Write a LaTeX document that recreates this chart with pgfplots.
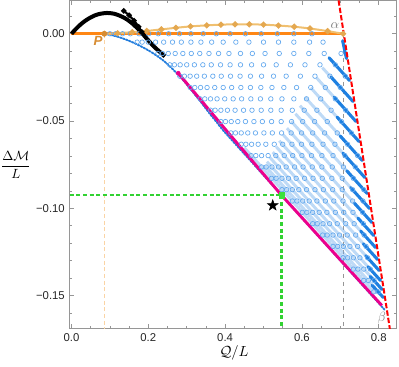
\documentclass[border=0pt]{standalone}
\usepackage{amsmath}
\usepackage{fontspec}
\setmainfont{Liberation Sans}
\usepackage{pgfplots}
\pgfplotsset{compat=1.18}
\usetikzlibrary{calc}

\definecolor{framegray}{RGB}{150,150,150}
\definecolor{circblue}{RGB}{98,168,238}
\definecolor{bandblue}{RGB}{110,172,236}
\definecolor{strokeblue}{RGB}{30,128,225}
\definecolor{edgeblue}{RGB}{35,125,220}
\definecolor{lineorange}{RGB}{255,135,20}
\definecolor{lightorange}{RGB}{240,192,112}
\definecolor{markorange}{RGB}{228,168,80}
\definecolor{porange}{RGB}{215,140,50}
\definecolor{guideorange}{RGB}{250,212,165}
\definecolor{guidegreen}{RGB}{50,210,50}
\definecolor{dotgreen}{RGB}{60,225,60}

% filled five-pointed star
\pgfdeclareplotmark{fstar}{%
  \pgfpathmoveto{\pgfpointpolar{90}{\pgfplotmarksize}}%
  \pgfpathlineto{\pgfpointpolar{126}{0.40\pgfplotmarksize}}%
  \pgfpathlineto{\pgfpointpolar{162}{\pgfplotmarksize}}%
  \pgfpathlineto{\pgfpointpolar{198}{0.40\pgfplotmarksize}}%
  \pgfpathlineto{\pgfpointpolar{234}{\pgfplotmarksize}}%
  \pgfpathlineto{\pgfpointpolar{270}{0.40\pgfplotmarksize}}%
  \pgfpathlineto{\pgfpointpolar{306}{\pgfplotmarksize}}%
  \pgfpathlineto{\pgfpointpolar{342}{0.40\pgfplotmarksize}}%
  \pgfpathlineto{\pgfpointpolar{18}{\pgfplotmarksize}}%
  \pgfpathlineto{\pgfpointpolar{54}{0.40\pgfplotmarksize}}%
  \pgfpathclose\pgfusepathqfillstroke}

\begin{document}
\begin{tikzpicture}
\begin{axis}[
    scale only axis,
    width=245.3pt, height=246.2pt,
    xmin=-0.0052, xmax=0.8469,
    ymin=-0.169, ymax=0.0191,
    axis line style={framegray, line width=0.6pt},
    tick align=inside, tick pos=both,
    xticklabel pos=left, yticklabel pos=left,
    xtick={0,0.2,0.4,0.6,0.8},
    xticklabels={0.0,0.2,0.4,0.6,0.8},
    ytick={-0.15,-0.10,-0.05,0},
    yticklabels={−0.15,−0.10,−0.05,0.00},
    minor xtick={0.05,0.1,0.15,0.25,0.3,0.35,0.45,0.5,0.55,0.65,0.7,0.75},
    minor ytick={-0.16,-0.14,-0.13,-0.12,-0.11,-0.09,-0.08,-0.07,-0.06,-0.04,-0.03,-0.02,-0.01,0.01},
    major tick length=3.5pt, minor tick length=2pt,
    every tick/.style={framegray, line width=0.5pt},
    tick label style={font=\fontsize{8.5}{10}\selectfont, text=black!85},
    xlabel={$\mathcal{Q}/L$},
    xlabel style={at={(axis description cs:0.503,-0.074)}, anchor=center, font=\fontsize{11}{13}\selectfont},
    ylabel={$\displaystyle\frac{\Delta\mathcal{M}}{L}$},
    ylabel style={rotate=-90, at={(axis description cs:-0.164,0.50)}, anchor=center, font=\fontsize{10}{12}\selectfont},
    unbounded coords=jump,
]

% guide lines
\addplot[draw=guideorange, densely dashed, line width=0.6pt] coordinates {(0.0855,0) (0.0855,-0.169)};
\addplot[draw=framegray, dashed, line width=0.6pt] coordinates {(0.7071,0) (0.7071,-0.169)};

% light bands where the circles crowd
\addplot[bandblue, line width=2.2pt, opacity=0.45] coordinates {
(0.450,-0.0653) (0.790,-0.1485) (nan,nan)
(0.504,-0.0756) (0.792,-0.1461) (nan,nan)
(0.509,-0.0733) (0.787,-0.1410) (nan,nan)
(0.516,-0.0707) (0.780,-0.1354) (nan,nan)
(0.524,-0.0678) (0.774,-0.1291) (nan,nan)
(0.533,-0.0647) (0.768,-0.1223) (nan,nan)
(0.541,-0.0613) (0.761,-0.1150) (nan,nan)
(0.551,-0.0578) (0.754,-0.1076) (nan,nan)
(0.561,-0.0541) (0.747,-0.0996) (nan,nan)
(0.572,-0.0501) (0.739,-0.0911) (nan,nan)
(0.583,-0.0458) (0.731,-0.0820) (nan,nan)
(0.595,-0.0412) (0.723,-0.0724) (nan,nan)
(0.608,-0.0363) (0.716,-0.0626) (nan,nan)
(0.623,-0.0309) (0.708,-0.0518) (nan,nan)
(0.638,-0.0252) (0.700,-0.0403) (nan,nan)
(0.653,-0.0194) (0.692,-0.0288) (nan,nan)
(0.669,-0.0134) (0.683,-0.0168)
};

% family of solutions (open circles)
\addplot[only marks, mark=o, mark size=1.7pt, mark options={circblue, line width=0.5pt}] coordinates {
(0.100,0) (0.171,-0.0048) (0.225,-0.0113) (0.256,-0.0178) (0.282,-0.0243) (0.309,-0.0308) (0.335,-0.0373) (0.362,-0.0438) (0.389,-0.0503) (0.415,-0.0568) (0.442,-0.0633) (0.468,-0.0698) (0.495,-0.0763) (0.521,-0.0828) (0.548,-0.0893) (0.575,-0.0958) (0.601,-0.1023) (0.628,-0.1088) (0.654,-0.1153) (0.681,-0.1218) (0.707,-0.1283) (0.734,-0.1348) (0.761,-0.1413) (0.787,-0.1478)
(0.115,0) (0.184,-0.0048) (0.237,-0.0113) (0.268,-0.0178) (0.294,-0.0243) (0.321,-0.0308) (0.347,-0.0373) (0.374,-0.0438) (0.401,-0.0503) (0.427,-0.0568) (0.454,-0.0633) (0.480,-0.0698) (0.507,-0.0763) (0.533,-0.0828) (0.560,-0.0893) (0.587,-0.0958) (0.613,-0.1023) (0.640,-0.1088) (0.666,-0.1153) (0.693,-0.1218) (0.719,-0.1283) (0.746,-0.1348) (0.773,-0.1413) (0.799,-0.1478)
(0.133,0) (0.200,-0.0048) (0.252,-0.0113) (0.283,-0.0178) (0.309,-0.0243) (0.336,-0.0308) (0.362,-0.0373) (0.389,-0.0438) (0.416,-0.0503) (0.442,-0.0568) (0.469,-0.0633) (0.495,-0.0698) (0.522,-0.0763) (0.548,-0.0828) (0.575,-0.0893) (0.602,-0.0958) (0.628,-0.1023) (0.655,-0.1088) (0.681,-0.1153) (0.708,-0.1218) (0.734,-0.1283) (0.761,-0.1348) (0.788,-0.1413)
(0.153,0) (0.219,-0.0048) (0.270,-0.0113) (0.300,-0.0178) (0.326,-0.0243) (0.353,-0.0308) (0.379,-0.0373) (0.406,-0.0438) (0.433,-0.0503) (0.459,-0.0568) (0.486,-0.0633) (0.512,-0.0698) (0.539,-0.0763) (0.565,-0.0828) (0.592,-0.0893) (0.619,-0.0958) (0.645,-0.1023) (0.672,-0.1088) (0.698,-0.1153) (0.725,-0.1218) (0.751,-0.1283) (0.778,-0.1348)
(0.176,0) (0.240,-0.0048) (0.290,-0.0113) (0.320,-0.0178) (0.346,-0.0243) (0.373,-0.0308) (0.399,-0.0373) (0.426,-0.0438) (0.453,-0.0503) (0.479,-0.0568) (0.506,-0.0633) (0.532,-0.0698) (0.559,-0.0763) (0.585,-0.0828) (0.612,-0.0893) (0.639,-0.0958) (0.665,-0.1023) (0.692,-0.1088) (0.718,-0.1153) (0.745,-0.1218) (0.771,-0.1283)
(0.201,0) (0.263,-0.0048) (0.312,-0.0113) (0.342,-0.0178) (0.368,-0.0243) (0.395,-0.0308) (0.421,-0.0373) (0.448,-0.0438) (0.475,-0.0503) (0.501,-0.0568) (0.528,-0.0633) (0.554,-0.0698) (0.581,-0.0763) (0.607,-0.0828) (0.634,-0.0893) (0.661,-0.0958) (0.687,-0.1023) (0.714,-0.1088) (0.740,-0.1153) (0.767,-0.1218)
(0.226,0) (0.286,-0.0048) (0.334,-0.0113) (0.364,-0.0178) (0.390,-0.0243) (0.417,-0.0308) (0.443,-0.0373) (0.470,-0.0438) (0.497,-0.0503) (0.523,-0.0568) (0.550,-0.0633) (0.576,-0.0698) (0.603,-0.0763) (0.629,-0.0828) (0.656,-0.0893) (0.683,-0.0958) (0.709,-0.1023) (0.736,-0.1088) (0.762,-0.1153)
(0.253,0) (0.311,-0.0048) (0.358,-0.0113) (0.388,-0.0178) (0.414,-0.0243) (0.441,-0.0308) (0.467,-0.0373) (0.494,-0.0438) (0.521,-0.0503) (0.547,-0.0568) (0.574,-0.0633) (0.600,-0.0698) (0.627,-0.0763) (0.653,-0.0828) (0.680,-0.0893) (0.707,-0.0958) (0.733,-0.1023) (0.760,-0.1088)
(0.281,0) (0.337,-0.0048) (0.383,-0.0113) (0.413,-0.0178) (0.439,-0.0243) (0.466,-0.0308) (0.492,-0.0373) (0.519,-0.0438) (0.546,-0.0503) (0.572,-0.0568) (0.599,-0.0633) (0.625,-0.0698) (0.652,-0.0763) (0.678,-0.0828) (0.705,-0.0893) (0.732,-0.0958) (0.758,-0.1023)
(0.311,0) (0.365,-0.0048) (0.410,-0.0113) (0.440,-0.0178) (0.466,-0.0243) (0.493,-0.0308) (0.519,-0.0373) (0.546,-0.0438) (0.573,-0.0503) (0.599,-0.0568) (0.626,-0.0633) (0.652,-0.0698) (0.679,-0.0763) (0.705,-0.0828) (0.732,-0.0893) (0.759,-0.0958)
(0.343,0) (0.395,-0.0048) (0.440,-0.0113) (0.469,-0.0178) (0.495,-0.0243) (0.522,-0.0308) (0.548,-0.0373) (0.575,-0.0438) (0.602,-0.0503) (0.628,-0.0568) (0.655,-0.0633) (0.681,-0.0698) (0.708,-0.0763) (0.734,-0.0828) (0.761,-0.0893)
(0.377,0) (0.428,-0.0048) (0.471,-0.0113) (0.500,-0.0178) (0.526,-0.0243) (0.553,-0.0308) (0.579,-0.0373) (0.606,-0.0438) (0.633,-0.0503) (0.659,-0.0568) (0.686,-0.0633) (0.712,-0.0698) (0.739,-0.0763)
(0.413,0) (0.462,-0.0048) (0.504,-0.0113) (0.533,-0.0178) (0.559,-0.0243) (0.586,-0.0308) (0.612,-0.0373) (0.639,-0.0438) (0.666,-0.0503) (0.692,-0.0568) (0.719,-0.0633) (0.745,-0.0698)
(0.453,0) (0.500,-0.0048) (0.541,-0.0113) (0.570,-0.0178) (0.596,-0.0243) (0.623,-0.0308) (0.649,-0.0373) (0.676,-0.0438) (0.703,-0.0503) (0.729,-0.0568)
(0.494,0) (0.539,-0.0048) (0.579,-0.0113) (0.608,-0.0178) (0.634,-0.0243) (0.661,-0.0308) (0.687,-0.0373) (0.714,-0.0438)
(0.536,0) (0.579,-0.0048) (0.618,-0.0113) (0.647,-0.0178) (0.673,-0.0243) (0.700,-0.0308)
(0.579,0) (0.620,-0.0048) (0.658,-0.0113) (0.687,-0.0178) (0.713,-0.0243)
(0.626,0) (0.655,-0.0048) (0.702,-0.0113)
};

% dense ends of each branch
\addplot[strokeblue, line width=2.3pt, line cap=round] coordinates {
(0.783,-0.1441) (0.812,-0.1511) (nan,nan)
(0.778,-0.1390) (0.809,-0.1465) (nan,nan)
(0.772,-0.1334) (0.805,-0.1414) (nan,nan)
(0.766,-0.1271) (0.801,-0.1356) (nan,nan)
(0.760,-0.1203) (0.797,-0.1293) (nan,nan)
(0.753,-0.1130) (0.792,-0.1225) (nan,nan)
(0.746,-0.1056) (0.787,-0.1156) (nan,nan)
(0.737,-0.0971) (0.782,-0.1081) (nan,nan)
(0.727,-0.0881) (0.776,-0.1001) (nan,nan)
(0.717,-0.0785) (0.770,-0.0915) (nan,nan)
(0.707,-0.0684) (0.764,-0.0824) (nan,nan)
(0.700,-0.0586) (0.757,-0.0726) (nan,nan)
(0.692,-0.0478) (0.749,-0.0618) (nan,nan)
(0.684,-0.0363) (0.741,-0.0503) (nan,nan)
(0.676,-0.0248) (0.733,-0.0388) (nan,nan)
(0.671,-0.0138) (0.724,-0.0268) (nan,nan)
(0.706,-0.0040) (0.716,-0.0142)
};

% lower edge of the region
\addplot[edgeblue, line width=1.4pt, densely dotted, line cap=round, smooth] coordinates {
(0.0855,0) (0.10,-0.0006) (0.12,-0.0017) (0.14,-0.0032) (0.16,-0.0050) (0.18,-0.0071) (0.20,-0.0095) (0.22,-0.0123) (0.24,-0.0155) (0.26,-0.0195) (0.28,-0.0240) (0.30,-0.0290) (0.32,-0.0345) (0.34,-0.0400) (0.36,-0.0458) (0.38,-0.0512) (0.40,-0.0566) (0.50,-0.0810) (0.60,-0.1055) (0.70,-0.1299) (0.815,-0.1580)
};

% orange line and light orange curve
\addplot[lineorange, line width=2.2pt] coordinates {(0,0) (0.7071,0)};
\addplot[lightorange, line width=1.5pt, smooth, mark=*, mark size=1.4pt, mark options={fill=markorange, draw=markorange}] coordinates {
(0.0855,0) (0.120,0.0003) (0.158,0.0009) (0.196,0.0016) (0.234,0.0025) (0.272,0.0034) (0.310,0.0042) (0.352,0.0048) (0.389,0.0052) (0.426,0.0054) (0.463,0.0054) (0.500,0.0052) (0.539,0.0047) (0.580,0.0040) (0.621,0.0030) (0.667,0.0015) (0.7071,0)
};

% black curve and its short branch
\addplot[black, line width=3pt, smooth] coordinates {
(0.000,0.0000) (0.010,0.0024) (0.022,0.0050) (0.035,0.0073) (0.048,0.0091) (0.061,0.0105) (0.074,0.0114) (0.0925,0.0119) (0.110,0.0115) (0.125,0.0104) (0.140,0.0088) (0.155,0.0065) (0.170,0.0035) (0.185,0.0000) (0.200,-0.0038) (0.215,-0.0074) (0.230,-0.0104) (0.243,-0.0130)
};
\addplot[black, line width=1.6pt, mark=*, mark size=1.1pt] coordinates {
(0.136,0.0131) (0.150,0.0106) (0.163,0.0075) (0.175,0.0040) (0.183,0.0010)
};

% magenta line
\addplot[magenta, line width=2.2pt] coordinates {(0.278,-0.0226) (0.410,-0.0572) (0.547,-0.0925) (0.808,-0.1556)};
\addplot[only marks, mark=*, mark size=1.5pt, magenta] coordinates {(0.278,-0.0226)};

% green guide lines
\addplot[color=guidegreen, dash pattern=on 3pt off 2pt, line width=1.3pt] coordinates {(-0.0052,-0.0925) (0.547,-0.0925)};
\addplot[color=guidegreen, dash pattern=on 3pt off 2pt, line width=1.8pt] coordinates {(0.547,-0.0925) (0.547,-0.169)};

% red dashed line
\addplot[red, line width=1.5pt, dash pattern=on 4pt off 1.6pt] coordinates {(0.6955,0.0191) (0.829,-0.169)};

% special points
\addplot[only marks, mark=square*, mark size=2pt, dotgreen] coordinates {(0.547,-0.0925)};
\addplot[only marks, mark=fstar, mark size=4.2pt, black] coordinates {(0.524,-0.0983)};
\addplot[only marks, mark=*, mark size=1.9pt, porange] coordinates {(0.0855,0)};

\node[text=porange, font=\bfseries\itshape\fontsize{10}{12}\selectfont] at (axis cs:0.069,-0.0040) {P};
\node[text=gray, font=\fontsize{10}{12}\selectfont] at (axis cs:0.686,0.0048) {$\alpha$};
\node[text=gray, font=\fontsize{10}{12}\selectfont] at (axis cs:0.808,-0.1628) {$\beta$};
\end{axis}
\pgfresetboundingbox
\path[use as bounding box] ($(current axis.south west)+(-52.1pt,-28.3pt)$) rectangle ($(current axis.north east)+(1.7pt,0.3pt)$);
\end{tikzpicture}
\end{document}
